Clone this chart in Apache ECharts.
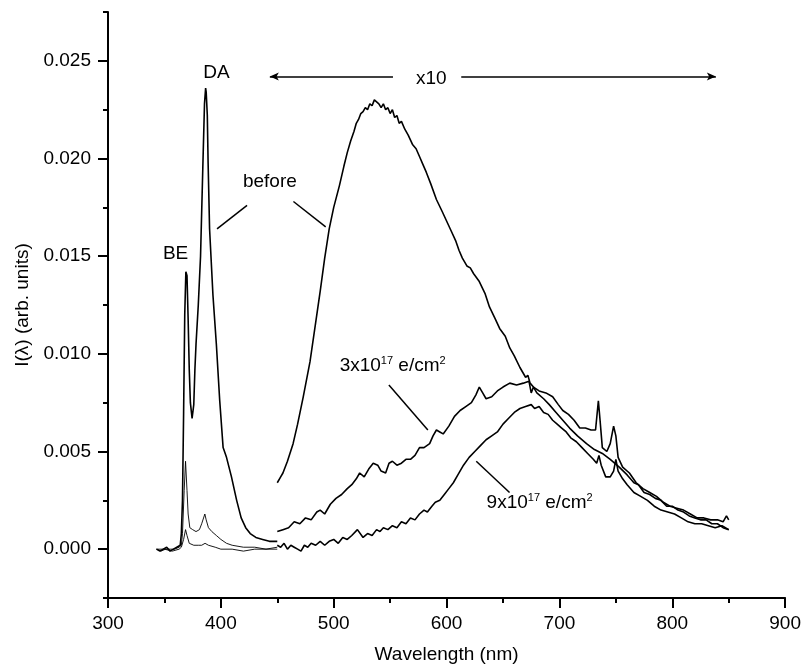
<!DOCTYPE html>
<html lang="en">

<head>
    <meta charset="UTF-8">
    <title>Luminescence spectra</title>
    <style>
        html, body { margin: 0; padding: 0; background: #fff; }
        #chart { width: 804px; height: 669px; }
    </style>
</head>

<body>
    <div id="chart"></div>
    <script src="https://cdn.jsdelivr.net/npm/echarts@6.0.0/dist/echarts.min.js"></script>
    <script>
        // axis ticks
        const xTicks = [300, 400, 500, 600, 700, 800, 900];
        const yTicks = [0, 0.005, 0.010, 0.015, 0.020, 0.025];
        const yMinorTicks = [-0.0025, 0.0025, 0.0075, 0.0125, 0.0175, 0.0225, 0.0275];

        // UV part, before irradiation (BE and DA peaks)
        const uvBeforeNm = [343, 346, 349, 352, 355, 358, 361, 364, 365, 366, 367, 368, 369, 370, 371, 372, 373, 374.5, 376, 377, 378, 380, 382, 384, 385.5, 386.5, 387, 388, 388.7, 390, 393, 396, 399, 402, 405, 409.4, 414, 418, 422, 426, 431, 437, 443, 450];
        const uvBeforeI = [0.0000, -0.0001, 0.0000, 0.0001, -0.0001, 0.0000, 0.0001, 0.0002, 0.0008, 0.0025, 0.0070, 0.0120, 0.0142, 0.0140, 0.0118, 0.0092, 0.0075, 0.0067, 0.0074, 0.0092, 0.0105, 0.0125, 0.0150, 0.0195, 0.0228, 0.0236, 0.0234, 0.0222, 0.0198, 0.0164, 0.0130, 0.0105, 0.0076, 0.0052, 0.0047, 0.0037, 0.0025, 0.0016, 0.0011, 0.0008, 0.0006, 0.0005, 0.0004, 0.0004];

        // UV part, after 3x10^17 and 9x10^17 e/cm2 (thin lines)
        const uvMidNm = [343, 347, 351, 355, 359, 363, 365, 366, 367.5, 368.7, 370, 371, 372.5, 375, 378, 381, 383, 385.8, 387, 389, 392, 396, 400, 405, 410, 420, 430, 440, 450];
        const uvMidI = [0.0000, -0.0001, 0.0000, 0.0000, 0.0000, 0.0001, 0.0002, 0.0008, 0.0030, 0.0045, 0.0030, 0.0018, 0.0011, 0.0010, 0.0009, 0.0010, 0.0013, 0.0018, 0.0015, 0.0011, 0.0009, 0.0007, 0.0005, 0.0003, 0.0002, 0.0001, 0.0001, 0.0000, 0.0001];
        const uvHighNm = [343, 350, 357, 363, 365, 367, 368.7, 370, 372, 376, 380, 383, 386, 389, 395, 400, 410, 420, 430, 440, 450];
        const uvHighI = [0.0000, 0.0000, -0.0001, 0.0000, 0.0001, 0.0005, 0.0010, 0.0007, 0.0003, 0.0002, 0.0002, 0.0002, 0.0003, 0.0002, 0.0001, 0.0000, 0.0000, -0.0001, 0.0000, 0.0000, 0.0000];

        // visible band (x10), before irradiation
        const visBeforeNm = [450, 453, 455, 459, 464, 468, 473, 479, 484, 488, 492, 496, 500, 505, 509, 512, 515, 518, 520, 522, 524, 526, 528, 530, 532, 534, 536, 538, 540, 542, 544, 546, 548, 550, 552, 554, 556, 558, 560, 563, 566, 570, 573, 576, 579, 582, 586, 591, 596, 600, 604, 608, 611, 614, 618, 621, 624, 629, 634, 638, 643, 647, 652, 656, 660, 665, 670, 672, 674, 677, 680, 686, 691, 697, 703, 709, 716, 724, 731, 738, 745, 753, 760, 766, 770, 775, 780, 785, 790, 795, 800, 805, 810, 815, 820, 825, 830, 835, 840, 845, 850];
        const visBeforeI = [0.0034, 0.0037, 0.0039, 0.0045, 0.0054, 0.0064, 0.0078, 0.0096, 0.0116, 0.0132, 0.0149, 0.0164, 0.0175, 0.0186, 0.0196, 0.0203, 0.0209, 0.0214, 0.0218, 0.0220, 0.0223, 0.0224, 0.0226, 0.0225, 0.0228, 0.0227, 0.0230, 0.0229, 0.0228, 0.0226, 0.0228, 0.0225, 0.0226, 0.0223, 0.0225, 0.0221, 0.0222, 0.0218, 0.0219, 0.0215, 0.0212, 0.0207, 0.0205, 0.0201, 0.0197, 0.0193, 0.0187, 0.0179, 0.0173, 0.0168, 0.0163, 0.0158, 0.0153, 0.0149, 0.0145, 0.0144, 0.0141, 0.0137, 0.0131, 0.0124, 0.0118, 0.0113, 0.0109, 0.0103, 0.0099, 0.0093, 0.0088, 0.0089, 0.0085, 0.0083, 0.0080, 0.0077, 0.0074, 0.0070, 0.0066, 0.0062, 0.0058, 0.0054, 0.0051, 0.0049, 0.0046, 0.0042, 0.0038, 0.0034, 0.0033, 0.0029, 0.0028, 0.0026, 0.0025, 0.0022, 0.0022, 0.0020, 0.0019, 0.0017, 0.0016, 0.0015, 0.0015, 0.0013, 0.0013, 0.0011, 0.0010];

        // visible band (x10), after 3x10^17 e/cm2
        const visMidNm = [450, 455, 460, 465, 470, 475, 480, 485, 488, 492, 497, 502, 507, 512, 516, 520, 523, 527, 531, 535, 539, 542, 546, 549, 552, 556, 560, 564, 568, 572, 576, 580, 585, 588, 591, 594, 597, 602, 607, 612, 617, 622, 626, 629, 632, 635, 640, 645, 650, 656, 662, 668, 673, 675, 677, 682, 688, 694, 699, 703, 708, 713, 718, 723, 728, 732, 734.5, 736, 738, 742, 745, 748, 750, 752, 756, 762, 768, 774, 780, 786, 792, 798, 804, 810, 816, 822, 828, 834, 840, 845, 848, 850];
        const visMidI = [0.0009, 0.0010, 0.0011, 0.0014, 0.0013, 0.0016, 0.0015, 0.0019, 0.0020, 0.0018, 0.0023, 0.0026, 0.0028, 0.0031, 0.0033, 0.0036, 0.0039, 0.0037, 0.0041, 0.0044, 0.0043, 0.0040, 0.0039, 0.0044, 0.0045, 0.0043, 0.0044, 0.0046, 0.0046, 0.0048, 0.0052, 0.0052, 0.0054, 0.0058, 0.0061, 0.0060, 0.0059, 0.0063, 0.0068, 0.0071, 0.0073, 0.0075, 0.0079, 0.0083, 0.0080, 0.0077, 0.0078, 0.0081, 0.0083, 0.0085, 0.0084, 0.0085, 0.0086, 0.0080, 0.0083, 0.0081, 0.0080, 0.0078, 0.0074, 0.0071, 0.0069, 0.0066, 0.0062, 0.0062, 0.0061, 0.0061, 0.0076, 0.0066, 0.0052, 0.0050, 0.0054, 0.0063, 0.0058, 0.0047, 0.0042, 0.0039, 0.0034, 0.0031, 0.0029, 0.0027, 0.0024, 0.0022, 0.0021, 0.0020, 0.0018, 0.0016, 0.0016, 0.0015, 0.0015, 0.0014, 0.0017, 0.0015];

        // visible band (x10), after 9x10^17 e/cm2
        const visHighNm = [450, 453, 456, 459, 462, 465, 468, 471, 474, 477, 480, 484, 488, 492, 496, 500, 504, 508, 512, 516, 521, 526, 530, 534, 538, 541, 544, 548, 552, 556, 560, 564, 568, 572, 576, 580, 583, 587, 590, 594, 598, 602, 606, 610, 615, 620, 625, 630, 635, 640, 645, 650, 655, 660, 665, 670, 675, 678, 682, 686, 690, 694, 698, 702, 706, 710, 715, 720, 725, 730, 733, 735, 737, 741, 745, 748, 750, 752, 756, 760, 766, 772, 778, 784, 790, 796, 802, 808, 814, 820, 826, 832, 838, 844, 850];
        const visHighI = [0.0002, 0.0001, 0.0003, 0.0000, 0.0002, 0.0001, 0.0000, -0.0001, 0.0002, 0.0001, 0.0003, 0.0002, 0.0004, 0.0002, 0.0004, 0.0005, 0.0003, 0.0006, 0.0005, 0.0007, 0.0010, 0.0006, 0.0008, 0.0007, 0.0010, 0.0009, 0.0011, 0.0010, 0.0012, 0.0011, 0.0014, 0.0013, 0.0016, 0.0015, 0.0018, 0.0020, 0.0019, 0.0022, 0.0024, 0.0025, 0.0028, 0.0031, 0.0034, 0.0038, 0.0043, 0.0047, 0.0050, 0.0053, 0.0056, 0.0058, 0.0060, 0.0064, 0.0067, 0.0070, 0.0072, 0.0073, 0.0074, 0.0072, 0.0073, 0.0070, 0.0069, 0.0066, 0.0064, 0.0062, 0.0060, 0.0057, 0.0055, 0.0052, 0.0049, 0.0046, 0.0044, 0.0048, 0.0043, 0.0037, 0.0037, 0.0040, 0.0046, 0.0040, 0.0036, 0.0033, 0.0029, 0.0027, 0.0025, 0.0022, 0.0020, 0.0019, 0.0018, 0.0016, 0.0014, 0.0013, 0.0013, 0.0012, 0.0011, 0.0012, 0.0010];

        // annotations, in data coordinates [nm, I]
        const noteTexts = [
            { text: 'DA', at: [396.2, 0.0244] },
            { text: 'BE', at: [359.9, 0.0151] },
            { text: 'before', at: [443.4, 0.0188] },
            { text: 'x10', at: [586.5, 0.0241] },
            { text: '3x10{sup|17} e/cm{sup|2}', at: [552.2, 0.0094] },
            { text: '9x10{sup|17} e/cm{sup|2}', at: [682.4, 0.0024] }
        ];
        const leaderLines = [
            [[423.2, 0.0176], [396.6, 0.0164]],
            [[464.3, 0.0178], [492.9, 0.0165]],
            [[548.9, 0.0084], [583.4, 0.0061]],
            [[626.3, 0.0045], [655.8, 0.0029]]
        ];
        const arrowLines = [
            [[552.5, 0.0242], [443.4, 0.0242]],
            [[613.0, 0.0242], [838.6, 0.0242]]
        ];

        const font = '"Liberation Sans", Arial, Helvetica, sans-serif';
        const fontSize = 19;
        const pairs = (xs, ys) => xs.map((x, i) => [x, ys[i]]);

        function curve(name, xs, ys, width) {
            return {
                name: name,
                type: 'line',
                data: pairs(xs, ys),
                showSymbol: false,
                symbol: 'none',
                silent: true,
                lineStyle: { color: '#000', width: width },
                z: 3
            };
        }

        let series = [
            curve('uv before', uvBeforeNm, uvBeforeI, 1.6),
            curve('uv 3e17', uvMidNm, uvMidI, 0.9),
            curve('uv 9e17', uvHighNm, uvHighI, 0.9),
            curve('vis before', visBeforeNm, visBeforeI, 1.6),
            curve('vis 3e17', visMidNm, visMidI, 1.6),
            curve('vis 9e17', visHighNm, visHighI, 1.6)
        ];
        series[0].markLine = {
            silent: true,
            animation: false,
            label: { show: false },
            lineStyle: { color: '#000', width: 1.5, type: 'solid' },
            symbol: ['none', 'none'],
            data: leaderLines.map(l => [{ coord: l[0], symbol: 'none' }, { coord: l[1], symbol: 'none' }])
                .concat(arrowLines.map(l => [{ coord: l[0], symbol: 'none' }, { coord: l[1], symbol: 'arrow', symbolSize: [6, 9] }]))
        };

        let axisLineStyle = { color: '#000', width: 2 };

        let option = {
            animation: false,
            backgroundColor: '#fff',
            grid: { left: 108, right: 18, top: 12, bottom: 70 },
            xAxis: {
                type: 'value',
                min: xTicks[0],
                max: xTicks[xTicks.length - 1],
                interval: 100,
                name: 'Wavelength (nm)',
                nameLocation: 'middle',
                nameGap: 47,
                nameTextStyle: { fontFamily: font, fontSize: fontSize, color: '#000' },
                axisLine: { show: true, onZero: false, lineStyle: axisLineStyle },
                axisTick: { show: true, length: 10, lineStyle: axisLineStyle },
                minorTick: { show: true, splitNumber: 2, length: 5, lineStyle: axisLineStyle },
                axisLabel: { fontFamily: font, fontSize: fontSize, color: '#000', margin: 16 },
                splitLine: { show: false }
            },
            yAxis: [{
                type: 'value',
                min: -0.0025,
                max: 0.0275,
                name: 'I(λ) (arb. units)',
                nameLocation: 'middle',
                nameGap: 76,
                nameTextStyle: { fontFamily: font, fontSize: fontSize, color: '#000' },
                axisLine: { show: true, onZero: false, lineStyle: axisLineStyle },
                axisTick: { show: true, length: 10, lineStyle: axisLineStyle, customValues: yTicks },
                axisLabel: {
                    fontFamily: font, fontSize: fontSize, color: '#000', margin: 17,
                    customValues: yTicks,
                    formatter: v => v.toFixed(3)
                },
                splitLine: { show: false }
            }, {
                type: 'value',
                position: 'left',
                min: -0.0025,
                max: 0.0275,
                axisLine: { show: false },
                axisTick: { show: true, length: 5, lineStyle: axisLineStyle, customValues: yMinorTicks },
                axisLabel: { show: false },
                splitLine: { show: false }
            }],
            series: series
        };

        let chart = echarts.init(document.getElementById('chart'));
        chart.setOption(option);

        // text annotations placed from data coordinates
        let graphics = noteTexts.map(n => {
            let p = chart.convertToPixel({ xAxisIndex: 0, yAxisIndex: 0 }, n.at);
            return {
                type: 'text',
                x: p[0],
                y: p[1],
                silent: true,
                style: {
                    text: n.text,
                    fontFamily: font,
                    fontSize: fontSize,
                    fill: '#000',
                    align: 'center',
                    verticalAlign: 'middle',
                    rich: {
                        sup: { fontFamily: font, fontSize: 11, fill: '#000', verticalAlign: 'top', padding: [0, 0, 9, 0] }
                    }
                }
            };
        });
        chart.setOption({ graphic: graphics });
    </script>
</body>

</html>
